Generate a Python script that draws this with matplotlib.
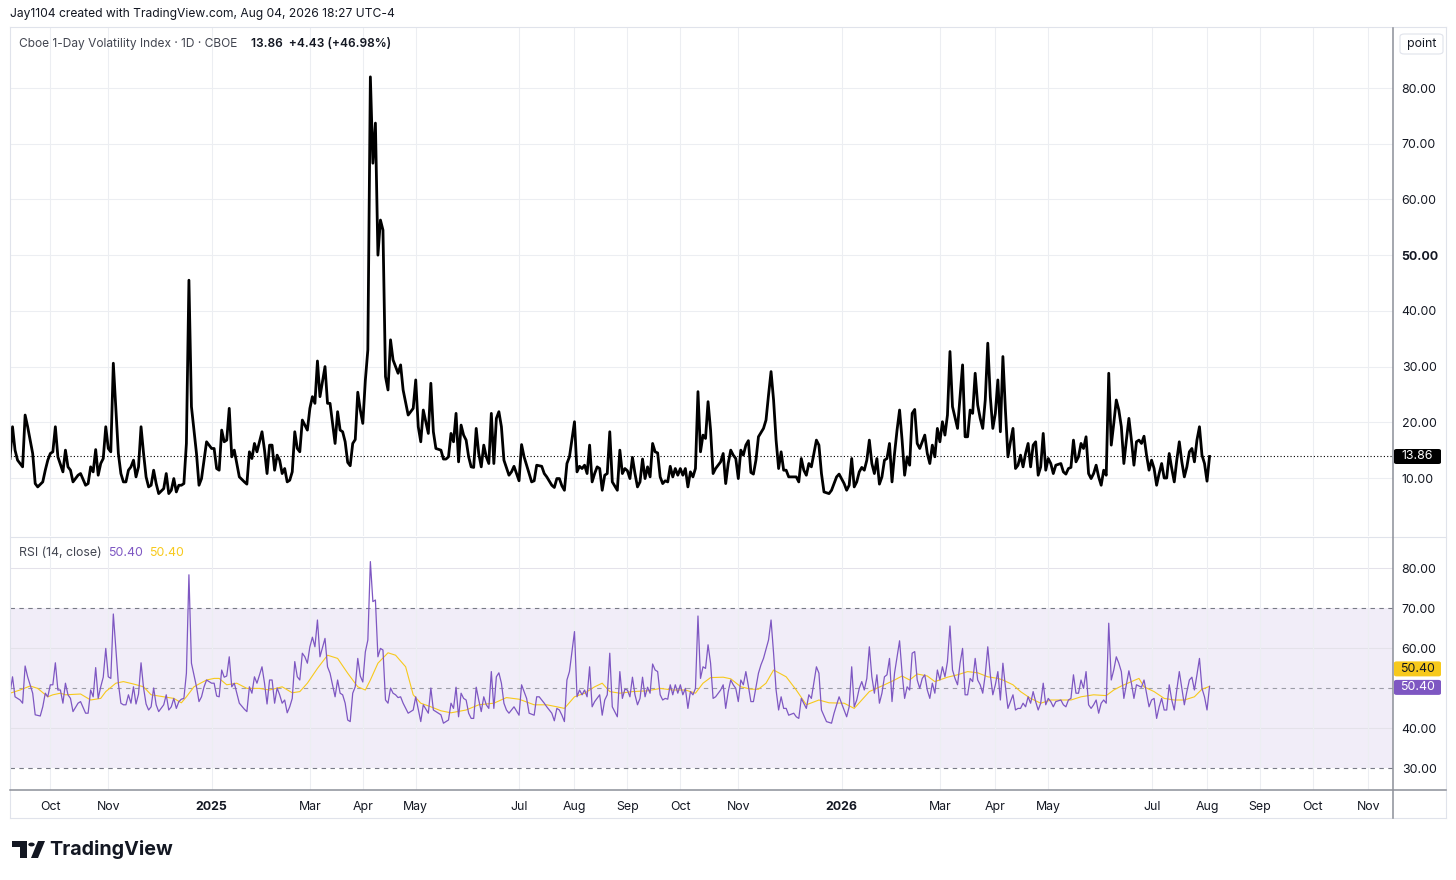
import matplotlib
matplotlib.use('Agg')
import matplotlib.pyplot as plt
from matplotlib.lines import Line2D
from matplotlib.patches import Polygon, Circle, FancyBboxPatch

plt.rcParams['font.family'] = ['Inter', 'DejaVu Sans']

W, H = 1456, 880

# ---- data (trading-day index from the left edge) ----
vix_day = [0, 1, 2, 3, 5, 6, 7, 9, 10, 11, 13, 14, 15, 16, 17, 18, 19, 21, 22, 23,
           24, 25, 27, 28, 30, 31, 32, 33, 34, 35, 36, 37, 38, 39, 40, 41, 43, 44, 45, 46,
           47, 48, 49, 50, 51, 52, 53, 54, 55, 56, 57, 58, 59, 61, 62, 63, 64, 65, 66, 67,
           68, 69, 70, 71, 72, 74, 75, 76, 77, 78, 80, 81, 82, 83, 84, 85, 86, 87, 88, 89,
           91, 93, 94, 95, 96, 97, 98, 100, 101, 102, 103, 104, 105, 106, 107, 108, 109, 110, 111, 112,
           113, 114, 115, 116, 117, 118, 119, 120, 121, 122, 123, 125, 126, 127, 129, 130, 131, 132, 133, 134,
           135, 136, 137, 138, 139, 140, 141, 142, 143, 144, 145, 146, 147, 148, 149, 150, 151, 152, 153, 154,
           155, 156, 158, 160, 161, 162, 163, 164, 165, 166, 167, 168, 169, 171, 172, 173, 174, 175, 176, 177,
           178, 179, 180, 181, 182, 183, 184, 185, 186, 187, 188, 189, 190, 191, 192, 193, 194, 195, 196, 198,
           199, 200, 202, 203, 204, 206, 207, 208, 209, 211, 212, 213, 215, 216, 217, 218, 219, 220, 221, 222,
           224, 225, 226, 227, 228, 229, 230, 231, 232, 233, 234, 235, 236, 237, 238, 239, 241, 242, 243, 244,
           245, 246, 247, 248, 249, 250, 251, 252, 253, 254, 255, 256, 257, 258, 259, 260, 261, 262, 263, 264,
           265, 266, 267, 268, 269, 270, 271, 272, 273, 274, 275, 276, 277, 278, 279, 280, 282, 283, 284, 285,
           286, 287, 288, 289, 290, 291, 292, 293, 294, 295, 296, 297, 299, 300, 301, 302, 303, 304, 305, 306,
           307, 308, 309, 311, 312, 313, 314, 315, 316, 317, 318, 320, 321, 322, 323, 325, 326, 328, 329, 331,
           332, 333, 334, 335, 336, 337, 338, 339, 340, 341, 342, 343, 344, 345, 346, 347, 348, 349, 350, 351,
           352, 353, 354, 355, 356, 357, 358, 359, 360, 361, 363, 364, 365, 366, 367, 368, 369, 370, 371, 372,
           373, 374, 376, 377, 378, 379, 380, 381, 382, 383, 384, 385, 386, 387, 388, 389, 390, 391, 392, 393,
           394, 395, 396, 397, 398, 399, 400, 401, 402, 403, 404, 405, 406, 407, 408, 409, 410, 411, 412, 413,
           414, 415, 417, 418, 419, 420, 421, 422, 423, 424, 425, 426, 427, 428, 429, 430, 431, 432, 433, 434,
           435, 436, 437, 438, 439, 440, 441, 442, 443, 444, 445, 446, 447, 448, 449, 450, 451, 452, 453, 454,
           455, 456, 457, 458, 459, 460, 461, 462, 463, 464, 465, 466, 467, 468, 469, 470, 471, 472, 473, 474,
           475, 476]
vix_close = [13.5, 19.2, 15.0, 13.2, 12.0, 21.3, 19.2, 14.4, 9.0, 8.4, 9.3, 11.4, 13.2, 14.4, 14.7, 19.2, 13.8, 11.1, 15.0, 12.0,
             11.4, 9.3, 10.5, 10.8, 8.7, 9.0, 12.0, 11.1, 15.1, 10.5, 12.6, 13.5, 19.2, 15.3, 14.7, 30.6, 14.4, 10.8, 9.3, 9.3,
             11.4, 12.0, 13.2, 10.2, 12.0, 19.2, 14.4, 10.2, 8.4, 8.7, 11.4, 9.0, 7.2, 8.1, 10.8, 7.2, 7.8, 9.9, 7.5, 8.7,
             8.7, 9.0, 16.2, 45.5, 22.8, 14.4, 8.7, 9.9, 13.2, 16.5, 15.3, 15.3, 11.7, 11.4, 18.6, 16.5, 16.8, 22.5, 13.8, 15.0,
             10.2, 9.3, 8.9, 14.7, 13.5, 16.2, 14.7, 18.3, 15.0, 10.8, 15.9, 15.9, 11.4, 14.1, 13.2, 10.8, 11.7, 9.3, 9.6, 11.1,
             18.3, 15.3, 14.7, 20.4, 19.5, 18.6, 22.5, 24.6, 23.4, 31.0, 24.6, 30.0, 23.4, 23.4, 16.2, 21.9, 18.6, 18.3, 16.5, 12.8,
             12.2, 16.2, 16.9, 25.4, 22.2, 19.8, 27.5, 33.0, 82.0, 66.5, 73.7, 50.0, 56.3, 54.5, 28.2, 25.8, 34.8, 31.2, 30.0, 28.8,
             30.3, 25.8, 21.3, 22.5, 27.6, 19.2, 16.5, 22.2, 20.1, 18.0, 27.0, 18.3, 15.3, 15.0, 13.4, 13.4, 13.8, 18.0, 16.5, 21.6,
             12.9, 19.5, 17.7, 16.8, 13.8, 12.0, 11.9, 18.9, 14.4, 12.0, 15.9, 13.8, 12.6, 21.6, 12.6, 20.7, 21.9, 19.2, 13.2, 10.5,
             11.1, 12.1, 9.5, 16.0, 13.8, 10.8, 9.3, 9.5, 12.3, 12.1, 10.8, 10.2, 8.7, 8.3, 9.9, 9.9, 8.6, 7.8, 12.6, 13.8,
             20.1, 11.1, 12.1, 11.7, 12.3, 10.8, 15.9, 9.3, 10.8, 12.0, 11.7, 7.8, 10.5, 10.8, 18.3, 9.3, 7.8, 15.0, 10.8, 11.7,
             11.3, 9.9, 13.7, 10.8, 8.4, 9.3, 13.4, 9.9, 12.0, 10.2, 16.2, 14.7, 14.5, 10.2, 9.0, 9.5, 9.3, 12.1, 10.2, 11.7,
             10.5, 11.7, 10.5, 11.7, 8.4, 11.1, 10.2, 11.7, 25.5, 14.7, 17.7, 17.1, 23.7, 18.6, 10.8, 11.7, 12.9, 14.4, 9.0, 12.6,
             15.0, 14.1, 13.5, 9.9, 15.0, 14.1, 15.9, 16.7, 11.0, 10.7, 13.2, 17.4, 18.9, 20.4, 24.9, 29.1, 24.0, 16.8, 11.7, 14.7,
             11.4, 11.4, 10.2, 10.2, 10.2, 9.3, 13.5, 11.4, 10.5, 12.6, 12.0, 16.8, 15.9, 10.8, 7.5, 7.2, 7.8, 10.2, 10.7, 9.0,
             7.8, 8.7, 13.5, 8.4, 9.3, 11.1, 11.9, 11.4, 13.2, 16.8, 12.6, 10.8, 13.5, 8.9, 10.2, 13.2, 13.5, 16.2, 9.3, 14.4,
             18.6, 22.2, 16.8, 10.5, 13.8, 12.3, 21.6, 22.3, 16.2, 15.3, 17.7, 14.4, 12.6, 15.9, 13.8, 18.9, 16.5, 20.1, 17.7, 21.3,
             32.7, 22.8, 18.9, 24.6, 30.3, 17.4, 17.4, 22.2, 21.6, 28.8, 23.1, 20.7, 18.9, 24.0, 34.2, 24.6, 18.9, 21.6, 27.6, 18.3,
             31.8, 22.2, 13.8, 16.5, 18.9, 11.7, 12.3, 14.1, 12.0, 14.4, 16.2, 12.0, 15.9, 16.5, 10.5, 12.0, 18.0, 11.4, 13.5, 12.6,
             10.8, 12.3, 12.6, 11.1, 10.7, 11.7, 11.9, 16.8, 12.9, 13.8, 16.2, 15.3, 17.4, 10.8, 9.9, 10.8, 12.3, 10.2, 8.7, 11.4,
             10.5, 28.8, 15.9, 19.8, 24.0, 22.2, 19.2, 12.6, 16.8, 20.7, 16.8, 12.3, 16.5, 16.8, 16.2, 17.5, 14.1, 11.4, 13.2, 11.7,
             8.7, 10.8, 12.6, 10.0, 10.0, 14.4, 11.7, 9.3, 13.2, 16.5, 12.9, 10.2, 12.0, 14.7, 15.3, 12.9, 16.8, 19.2, 14.1, 12.6,
             9.43, 13.86]

rsi_day = [0, 1, 2, 4, 5, 6, 7, 9, 10, 12, 13, 14, 15, 16, 17, 18, 19, 20, 21, 22,
           23, 24, 25, 27, 28, 30, 31, 32, 33, 34, 35, 36, 37, 38, 39, 40, 41, 43, 44, 45,
           46, 47, 48, 49, 50, 51, 52, 53, 54, 55, 56, 57, 58, 59, 61, 62, 63, 64, 65, 66,
           67, 68, 69, 70, 71, 72, 74, 75, 76, 77, 78, 80, 81, 82, 83, 84, 85, 86, 87, 88,
           89, 91, 93, 94, 95, 96, 97, 98, 100, 101, 102, 103, 104, 105, 106, 107, 108, 109, 110, 111,
           112, 113, 114, 115, 116, 117, 118, 119, 120, 121, 122, 123, 125, 126, 127, 129, 130, 131, 132, 133,
           134, 135, 136, 137, 138, 139, 140, 141, 142, 143, 144, 145, 146, 147, 148, 149, 150, 151, 152, 153,
           154, 155, 156, 158, 160, 161, 163, 164, 166, 167, 168, 171, 172, 174, 175, 176, 177, 178, 179, 180,
           181, 182, 183, 184, 185, 186, 187, 188, 189, 190, 191, 192, 193, 194, 195, 196, 197, 198, 200, 202,
           203, 205, 206, 208, 209, 210, 212, 213, 215, 216, 217, 218, 219, 220, 221, 222, 224, 225, 226, 227,
           228, 229, 230, 231, 232, 234, 235, 236, 237, 238, 239, 241, 242, 243, 244, 245, 246, 247, 248, 249,
           250, 251, 252, 253, 254, 255, 256, 257, 258, 259, 260, 261, 262, 263, 264, 265, 266, 267, 268, 269,
           270, 271, 272, 273, 274, 275, 276, 277, 278, 279, 280, 282, 283, 284, 285, 286, 287, 288, 289, 290,
           291, 292, 293, 294, 295, 297, 298, 299, 301, 302, 303, 304, 305, 306, 307, 308, 309, 311, 312, 313,
           314, 316, 317, 318, 320, 321, 322, 324, 326, 327, 329, 331, 332, 333, 334, 335, 336, 337, 338, 339,
           340, 341, 342, 343, 344, 345, 346, 347, 348, 349, 350, 351, 352, 353, 354, 355, 356, 357, 358, 359,
           360, 361, 362, 363, 364, 365, 366, 367, 368, 369, 370, 371, 372, 373, 374, 375, 376, 377, 378, 379,
           380, 381, 382, 383, 384, 385, 386, 387, 388, 389, 390, 391, 392, 393, 394, 395, 396, 397, 398, 399,
           400, 401, 402, 403, 404, 405, 406, 407, 408, 409, 410, 411, 412, 413, 414, 415, 417, 418, 419, 420,
           421, 422, 423, 424, 425, 426, 427, 428, 429, 430, 431, 432, 433, 434, 435, 436, 437, 438, 439, 440,
           441, 442, 443, 444, 445, 446, 447, 448, 449, 450, 451, 452, 453, 454, 455, 456, 457, 458, 459, 460,
           461, 462, 463, 464, 465, 466, 467, 468, 469, 470, 471, 472, 473, 474, 475, 476]
rsi_val = [48.7, 52.8, 47.8, 47.0, 46.2, 55.5, 52.8, 48.7, 43.3, 43.0, 45.3, 48.7, 47.8, 50.8, 50.8, 56.3, 49.5, 49.5, 46.2, 51.2,
           48.3, 47.4, 44.1, 46.2, 46.6, 43.7, 43.7, 49.5, 47.8, 55.1, 47.4, 50.3, 52.7, 59.9, 52.8, 52.4, 68.5, 51.2, 46.2, 45.8,
           45.8, 48.3, 46.2, 50.3, 46.0, 48.5, 56.3, 50.0, 46.0, 44.5, 45.3, 50.0, 45.8, 44.1, 45.8, 48.3, 44.5, 45.3, 47.4, 44.9,
           46.6, 47.2, 47.4, 53.7, 78.3, 56.2, 50.3, 46.6, 47.8, 50.3, 52.0, 51.2, 51.2, 48.0, 47.8, 54.5, 52.7, 53.0, 57.8, 50.3,
           51.2, 46.2, 44.7, 44.1, 50.3, 48.7, 52.8, 51.2, 55.3, 51.2, 46.0, 52.0, 52.0, 46.2, 50.0, 48.3, 46.2, 47.0, 43.8, 45.3,
           47.4, 56.6, 52.8, 52.0, 58.7, 57.8, 56.2, 60.3, 62.7, 60.3, 67.0, 57.8, 62.4, 55.3, 53.7, 47.8, 52.0, 48.7, 48.3, 46.2,
           42.0, 41.6, 48.7, 50.3, 57.4, 53.0, 51.5, 59.0, 62.0, 81.6, 71.6, 72.0, 57.8, 59.9, 59.5, 47.0, 46.2, 50.0, 48.7, 48.3,
           47.6, 47.8, 46.2, 43.7, 44.5, 47.8, 41.6, 45.8, 43.7, 50.0, 44.5, 43.3, 41.2, 42.0, 46.2, 44.9, 50.2, 42.8, 48.7, 47.4,
           47.0, 43.7, 42.4, 42.4, 50.2, 47.0, 44.1, 47.8, 45.8, 44.9, 54.1, 44.9, 52.8, 53.8, 51.2, 46.2, 44.5, 43.7, 45.3, 43.2,
           50.8, 47.4, 43.7, 43.2, 47.8, 47.8, 46.2, 45.3, 43.7, 41.8, 44.9, 44.5, 43.2, 41.6, 52.0, 54.1, 64.1, 47.8, 49.5, 48.3,
           49.5, 47.8, 55.3, 45.3, 46.6, 48.3, 43.2, 47.0, 48.3, 58.7, 45.3, 42.8, 54.1, 47.4, 49.7, 49.5, 47.8, 52.7, 48.3, 45.8,
           47.4, 52.7, 47.8, 50.2, 48.7, 56.0, 54.5, 54.1, 48.3, 47.0, 47.4, 47.2, 50.8, 48.3, 50.8, 48.7, 50.8, 48.3, 49.9, 44.9,
           49.1, 48.3, 49.9, 68.0, 52.4, 55.3, 54.9, 60.8, 56.2, 47.4, 47.8, 49.5, 50.8, 44.9, 49.1, 52.0, 50.8, 49.9, 46.6, 52.0,
           50.8, 54.1, 50.5, 46.6, 46.6, 53.7, 55.8, 57.4, 62.0, 67.0, 58.7, 49.5, 44.5, 47.8, 44.9, 44.9, 43.2, 43.7, 42.8, 42.4,
           47.4, 44.9, 48.3, 47.4, 55.3, 53.7, 44.5, 41.6, 41.2, 43.7, 47.8, 44.5, 42.8, 45.3, 55.3, 45.3, 47.0, 49.9, 51.6, 49.5,
           52.4, 60.3, 52.8, 48.7, 53.3, 46.2, 48.7, 52.8, 53.3, 57.4, 46.6, 53.7, 57.8, 61.8, 53.7, 47.4, 50.3, 49.5, 58.7, 59.1,
           52.0, 49.9, 52.4, 53.3, 49.5, 47.4, 51.2, 48.7, 54.5, 52.0, 55.3, 52.8, 56.6, 65.5, 54.5, 52.4, 50.8, 56.2, 59.9, 48.3,
           48.3, 52.4, 51.6, 57.4, 52.0, 50.8, 48.7, 53.3, 60.3, 53.3, 48.3, 50.8, 54.1, 47.0, 56.2, 50.3, 44.9, 46.6, 48.3, 44.5,
           44.9, 44.9, 46.2, 45.3, 47.8, 46.2, 49.1, 46.6, 44.5, 46.2, 51.2, 45.8, 47.4, 46.6, 45.3, 46.6, 47.0, 45.8, 45.3, 47.0,
           47.4, 53.3, 48.7, 48.7, 52.0, 49.9, 54.1, 45.8, 44.9, 45.8, 47.0, 43.7, 46.2, 47.0, 46.2, 66.2, 52.0, 54.5, 57.8, 56.2,
           54.1, 47.4, 50.8, 54.3, 51.2, 47.4, 50.8, 50.5, 50.2, 52.0, 48.7, 45.3, 47.0, 47.4, 42.4, 45.3, 47.4, 44.5, 44.5, 50.8,
           47.0, 44.5, 49.5, 54.1, 49.9, 45.8, 49.1, 52.0, 52.7, 49.5, 53.3, 57.4, 49.9, 47.8, 44.5, 50.4]

ma_day = [0, 4, 8, 11, 15, 17, 20, 22, 28, 32, 36, 38, 42, 45, 49, 53, 56, 61, 65, 68,
          70, 73, 75, 78, 81, 83, 86, 90, 94, 99, 103, 108, 112, 115, 118, 122, 126, 130, 134, 138,
          141, 143, 146, 150, 153, 157, 160, 163, 167, 171, 175, 181, 186, 192, 197, 202, 208, 213, 217, 220,
          224, 228, 232, 235, 238, 242, 247, 253, 258, 263, 268, 272, 275, 278, 283, 286, 290, 294, 297, 300,
          303, 308, 312, 316, 321, 325, 331, 335, 341, 347, 351, 354, 357, 360, 364, 367, 372, 376, 380, 384,
          388, 392, 394, 398, 401, 405, 409, 413, 417, 421, 425, 430, 435, 438, 441, 445, 448, 450, 454, 458,
          462, 466, 470, 473, 476]
ma_val = [48.7, 49.5, 50.5, 49.9, 47.8, 48.3, 48.7, 48.3, 48.5, 47.0, 47.4, 49.1, 51.2, 51.6, 51.0, 50.3, 48.3, 47.8, 47.4, 46.3,
          47.8, 50.3, 51.0, 52.0, 52.4, 52.4, 50.8, 51.2, 49.9, 49.9, 49.5, 50.3, 48.8, 49.1, 51.2, 54.9, 58.2, 57.4, 53.7, 50.3,
          49.5, 52.0, 56.2, 58.8, 58.2, 55.3, 48.3, 46.2, 45.3, 44.3, 43.8, 44.5, 45.8, 46.2, 47.6, 47.2, 45.8, 45.8, 45.3, 44.9,
          47.8, 48.7, 50.3, 51.2, 49.1, 48.7, 49.1, 49.3, 49.9, 49.5, 49.5, 48.7, 51.2, 52.6, 52.7, 52.3, 50.3, 49.7, 49.7, 51.2,
          54.5, 52.8, 49.5, 45.8, 47.0, 46.3, 46.2, 44.9, 49.1, 50.8, 52.0, 53.0, 52.0, 53.5, 53.0, 51.6, 52.7, 53.3, 54.1, 53.8,
          52.8, 52.4, 52.0, 50.8, 49.1, 47.4, 46.2, 47.0, 47.0, 47.0, 47.8, 48.3, 48.1, 49.5, 50.5, 51.6, 52.4, 50.3, 49.1, 47.4,
          47.0, 47.0, 47.8, 49.7, 50.4]

month_day = [16, 39, 80, 119, 140, 161, 202, 224, 245, 266, 289, 330, 369, 391, 412, 453, 475, 496, 517, 539]
month_lbl = ['Oct', 'Nov', '2025', 'Mar', 'Apr', 'May', 'Jul', 'Aug', 'Sep', 'Oct', 'Nov',
             '2026', 'Mar', 'Apr', 'May', 'Jul', 'Aug', 'Sep', 'Oct', 'Nov']
price_ticks = [10, 20, 30, 40, 50, 60, 70, 80]
rsi_ticks = [30, 40, 60, 70, 80]
last_close = 13.86
rsi_last = 50.40
ma_last = 50.40

TXT = '#131722'
GRID = '#eceef2'
AXLINE = '#8c8f98'
PURPLE = '#7e57c2'
YELLOW = '#f7c91c'
FS = 8.9


def box(x0, y0, x1, y1):
    return [x0 / W, 1 - y1 / H, (x1 - x0) / W, (y1 - y0) / H]


def fline(x0, y0, x1, y1, color, lw):
    fig.add_artist(Line2D([x0 / W, x1 / W], [1 - y0 / H, 1 - y1 / H],
                          transform=fig.transFigure, color=color, lw=lw))


fig = plt.figure(figsize=(W / 100, H / 100), dpi=100)
fig.patch.set_facecolor('white')

ax = fig.add_axes(box(10, 28, 1393, 536))
ax2 = fig.add_axes(box(10, 537, 1393, 790))

for a in (ax, ax2):
    a.set_xlim(0, 548.8)
    for s in a.spines.values():
        s.set_visible(False)
    a.set_xticks(month_day)
    a.grid(axis='x', color=GRID, lw=0.75, zorder=1)
    a.tick_params(axis='x', length=0)
    a.yaxis.tick_right()
    a.tick_params(axis='y', length=0, pad=6.3, labelsize=FS, labelcolor=TXT)

# main pane
ax.set_ylim(-0.41, 90.77)
ax.set_yticks(price_ticks, labels=[f'{v:.2f}' for v in price_ticks])
ax.grid(axis='y', color=GRID, lw=0.75, zorder=1)
ax.tick_params(axis='x', labelbottom=False)
for t in ax.get_yticklabels():
    if t.get_text() == '50.00':
        t.set_fontweight('bold')
ax.plot(vix_day, vix_close, color='black', lw=2.0, solid_joinstyle='round', zorder=3)
ax.axhline(last_close, color='black', lw=0.8, ls=(0, (1, 2)), zorder=2)

# RSI pane
ax2.set_ylim(24.5, 87.75)
ax2.set_yticks(rsi_ticks, labels=[f'{v:.2f}' for v in rsi_ticks])
ax2.axhspan(30, 70, color=PURPLE, alpha=0.1, lw=0, zorder=0)
for v in (40, 60, 80):
    ax2.axhline(v, color='#e4e2ea', lw=0.75, zorder=1)
ax2.axhline(70, color='#787b86', lw=0.8, ls=(0, (4, 4)), zorder=2)
ax2.axhline(30, color='#787b86', lw=0.8, ls=(0, (4, 4)), zorder=2)
ax2.axhline(50, color='#787b86', lw=0.8, ls=(0, (4, 4)), alpha=0.7, zorder=2)
ax2.plot(ma_day, ma_val, color=YELLOW, lw=0.8, zorder=3)
ax2.plot(rsi_day, rsi_val, color=PURPLE, lw=0.9, zorder=4)
ax2.set_xticks(month_day, labels=month_lbl)
ax2.tick_params(axis='x', pad=8, labelsize=FS, labelcolor=TXT)
for t in ax2.get_xticklabels():
    if t.get_text() in ('2025', '2026'):
        t.set_fontweight('bold')

# frame lines
fline(10, 27.5, 1446, 27.5, '#e0e3eb', 0.8)
fline(10, 27.5, 10, 818, '#e0e3eb', 0.8)
fline(1446, 27.5, 1446, 818, '#e0e3eb', 0.8)
fline(10, 818, 1446, 818, '#e0e3eb', 0.8)
fline(10, 536.5, 1446, 536.5, '#e0e3eb', 0.8)
fline(10, 790, 1446, 790, AXLINE, 1.1)
fline(1393, 28, 1393, 818, AXLINE, 1.1)


# price tags on the right scale
def tag(a, value, text, fc, tc, dy=0):
    yc = H - a.transData.transform((0, value))[1] - dy
    fig.patches.append(FancyBboxPatch((1394 / W, 1 - (yc + 7.5) / H), 47 / W, 15 / H,
                                      boxstyle='round,pad=0,rounding_size=0.0018',
                                      transform=fig.transFigure, fc=fc, ec='none', zorder=5))
    fig.text(1417.5 / W, 1 - yc / H, text, ha='center', va='center', color=tc,
             fontsize=FS, zorder=6)


tag(ax, last_close, f'{last_close:.2f}', 'black', 'white')
tag(ax2, ma_last, f'{ma_last:.2f}', YELLOW, TXT, dy=17.5)
tag(ax2, rsi_last, f'{rsi_last:.2f}', PURPLE, 'white', dy=-1)

fig.patches.append(FancyBboxPatch((1400 / W, 1 - 54 / H), 43 / W, 20 / H,
                                  boxstyle='round,pad=0,rounding_size=0.003',
                                  transform=fig.transFigure, fc='white', ec='#e0e3eb', lw=0.8))
fig.text(1421.5 / W, 1 - 44 / H, 'point', ha='center', va='center', color=TXT, fontsize=FS)

# legends and header
fig.text(10 / W, 1 - 14 / H, 'Jay1104 created with TradingView.com, Aug 04, 2026 18:27 UTC-4',
         ha='left', va='center', color=TXT, fontsize=8.7)
fig.text(19 / W, 1 - 44 / H, 'Cboe 1-Day Volatility Index · 1D · CBOE',
         ha='left', va='center', color='#434651', fontsize=8.6)
fig.text(251 / W, 1 - 44 / H, '13.86  +4.43 (+46.98%)',
         ha='left', va='center', color=TXT, fontsize=8.6, fontweight='semibold')
fig.text(19 / W, 1 - 553 / H, 'RSI (14, close)', ha='left', va='center', color='#434651', fontsize=FS)
fig.text(108 / W, 1 - 553 / H, f'{rsi_last:.2f}', ha='left', va='center', color=PURPLE, fontsize=FS)
fig.text(149 / W, 1 - 553 / H, f'{ma_last:.2f}', ha='left', va='center', color=YELLOW, fontsize=FS)

# TradingView logo
fig.patches.append(Polygon([(12 / W, 1 - 841 / H), (27 / W, 1 - 841 / H), (27 / W, 1 - 858 / H),
                            (20 / W, 1 - 858 / H), (20 / W, 1 - 847 / H), (12 / W, 1 - 847 / H)],
                           closed=True, transform=fig.transFigure, fc=TXT, ec='none'))
fig.patches.append(Circle((31.5 / W, 1 - 844.5 / H), 3.2 / W, transform=fig.transFigure, fc=TXT, ec='none'))
fig.patches.append(Polygon([(38 / W, 1 - 841 / H), (45 / W, 1 - 841 / H), (38 / W, 1 - 858 / H),
                            (31 / W, 1 - 858 / H)],
                           closed=True, transform=fig.transFigure, fc=TXT, ec='none'))
fig.text(49 / W, 1 - 849.5 / H, 'TradingView', ha='left', va='center', color=TXT,
         fontsize=14.2, fontweight='bold')

fig.savefig('out.png', dpi=100, facecolor='white')
